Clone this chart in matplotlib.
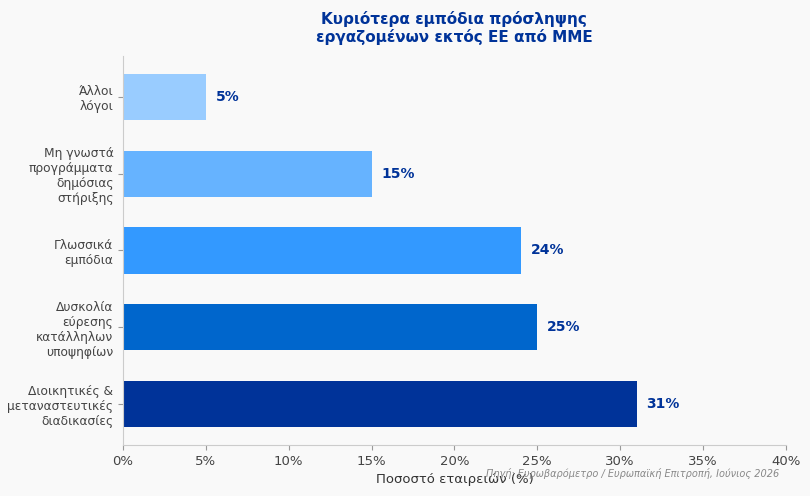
import matplotlib.pyplot as plt
from matplotlib.ticker import FuncFormatter

# data (bottom to top)
categories = ['Διοικητικές &\nμεταναστευτικές\nδιαδικασίες',
              'Δυσκολία\nεύρεσης\nκατάλληλων\nυποψηφίων',
              'Γλωσσικά\nεμπόδια',
              'Μη γνωστά\nπρογράμματα\nδημόσιας\nστήριξης',
              'Άλλοι\nλόγοι']
values = [31, 25, 24, 15, 5]
colors = ['#003399', '#0066cc', '#3399ff', '#66b3ff', '#99ccff']

fig = plt.figure(figsize=(8.1, 4.96), dpi=100, facecolor='#f9f9f9')
ax = fig.add_axes([0.152, 0.103, 0.818, 0.784])
ax.set_facecolor('#f9f9f9')

bars = ax.barh(range(len(values)), values, height=0.6, color=colors)
for b, v in zip(bars, values):
    ax.text(b.get_width() + 0.6, b.get_y() + b.get_height() / 2, f'{v}%',
            va='center', ha='left', fontsize=10, fontweight='bold', color='#003399')

ax.set_yticks(range(len(values)))
ax.set_yticklabels(categories, fontsize=8.8, color='#444444')
ax.set_xlim(0, 40)
ax.set_xticks(range(0, 41, 5))
ax.xaxis.set_major_formatter(FuncFormatter(lambda x, p: f'{x:.0f}%'))
ax.tick_params(axis='x', labelsize=9.5, colors='#444444')
ax.tick_params(axis='both', color='#999999')
for s in ['top', 'right']:
    ax.spines[s].set_visible(False)
for s in ['left', 'bottom']:
    ax.spines[s].set_color('#cccccc')

ax.set_xlabel('Ποσοστό εταιρειών (%)', fontsize=9.5, color='#333333', labelpad=4)
ax.set_title('Κυριότερα εμπόδια πρόσληψης\nεργαζομένων εκτός ΕΕ από ΜΜΕ',
             fontsize=11, fontweight='bold', color='#003399', pad=10)

fig.text(0.962, 0.046, 'Πηγή: Ευρωβαρόμετρο / Ευρωπαϊκή Επιτροπή, Ιούνιος 2026',
         ha='right', va='center', fontsize=7, style='italic', color='#888888')

fig.savefig('out.png', dpi=100, facecolor=fig.get_facecolor())
